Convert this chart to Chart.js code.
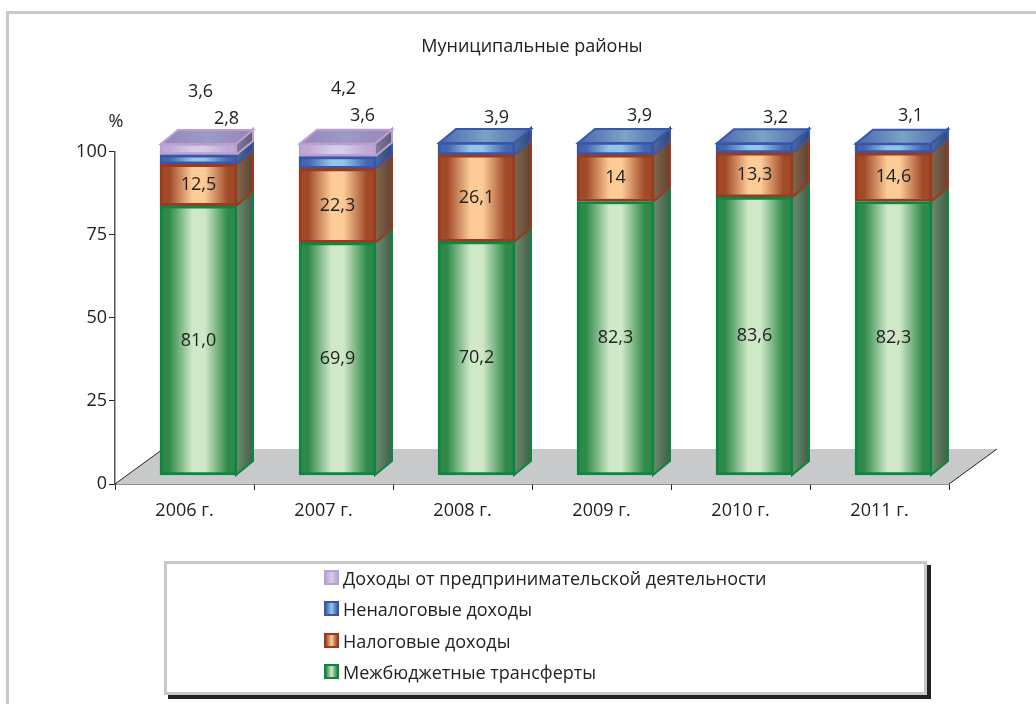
<!DOCTYPE html>
<html>
<head>
<meta charset="utf-8">
<script src="https://cdn.jsdelivr.net/npm/chart.js@4"></script>
<style>
  html, body { margin: 0; background: #fff; }
  #wrap { position: relative; width: 1036px; height: 704px; overflow: hidden; font-family: "Open Sans", sans-serif; }
  #frame { position: absolute; left: 6px; top: 11px; width: 1040px; height: 700px; border-left: 3px solid #c8c8c8; border-top: 3px solid #c8c8c8; }
  #legendBox { position: absolute; left: 164px; top: 561px; width: 757px; height: 128px; border: 3px solid #c8c8c8; box-shadow: 4px 4px 0 #222; background: #fff; }
  .item { position: absolute; left: 157px; font-size: 18px; line-height: 24px; color: #222; white-space: nowrap; }
  .swatch { display: inline-block; width: 11px; height: 11px; border: 2px solid; margin-right: 4px; vertical-align: 0; }
  canvas { position: absolute; left: 0; top: 0; }
</style>
</head>
<body>
<div id="wrap">
  <div id="frame"></div>
  <canvas id="chart" width="1036" height="704"></canvas>
  <div id="legendBox"></div>
</div>
<script>
const categories = ['2006 г.', '2007 г.', '2008 г.', '2009 г.', '2010 г.', '2011 г.'];
const seriesNames = ['Межбюджетные трансферты', 'Налоговые доходы', 'Неналоговые доходы', 'Доходы от предпринимательской деятельности'];
const transfers = [81.0, 69.9, 70.2, 82.3, 83.6, 82.3];
const taxIncome = [12.5, 22.3, 26.1, 14, 13.3, 14.6];
const nonTaxIncome = [2.8, 3.6, 3.9, 3.9, 3.2, 3.1];
const businessIncome = [3.6, 4.2, null, null, null, null];
const transferLabels = ['81,0', '69,9', '70,2', '82,3', '83,6', '82,3'];
const taxLabels = ['12,5', '22,3', '26,1', '14', '13,3', '14,6'];
const nonTaxLabels = ['2,8', '3,6', '3,9', '3,9', '3,2', '3,1'];
const businessLabels = ['3,6', '4,2', '', '', '', ''];
const yTicks = [0, 25, 50, 75, 100];

const textColor = '#222';
const fontName = '"Open Sans", sans-serif';
const palette = [
  { edge: '#0b8743', shade: '#2f8a49', mid: '#cfe8c8', sideA: '#6a8a6c', sideB: '#3f5c46', top: '#0b8743', topMid: '#0b8743' },
  { edge: '#9c3a1e', shade: '#a04a28', mid: '#fccb96', sideA: '#80664c', sideB: '#5e4030', top: '#9c3a1e', topMid: '#9c3a1e' },
  { edge: '#3a56a8', shade: '#4466b0', mid: '#94c5ea', sideA: '#4a6a9a', sideB: '#2f4478', top: '#4a66ae', topMid: '#7ba3c6' },
  { edge: '#bb9fd0', shade: '#c0a8d6', mid: '#d3cde8', sideA: '#7c7a9c', sideB: '#5c5a70', top: '#9a84ba', topMid: '#9a9cc4' }
];
const depthX = 17;
const depthY = -14;
const shiftX = 14;  // bars stand on the floor, away from the axis corner
const floorX = 48;
const floorY = -35;

function frontGradient(ctx, x, w, c) {
  const g = ctx.createLinearGradient(x - w / 2, 0, x + w / 2, 0);
  g.addColorStop(0, c.shade);
  g.addColorStop(0.12, c.shade);
  g.addColorStop(0.42, c.mid);
  g.addColorStop(0.58, c.mid);
  g.addColorStop(0.88, c.shade);
  g.addColorStop(1, c.shade);
  return g;
}

const floorPlugin = {
  id: 'floor',
  beforeDatasetsDraw(chart) {
    const { ctx, chartArea: a } = chart;
    ctx.save();
    ctx.fillStyle = '#c8c9cb';
    ctx.strokeStyle = '#222';
    ctx.lineWidth = 1;
    ctx.beginPath();
    ctx.moveTo(a.left, a.bottom);
    ctx.lineTo(a.left + floorX, a.bottom + floorY);
    ctx.lineTo(a.right + floorX, a.bottom + floorY);
    ctx.lineTo(a.right, a.bottom);
    ctx.closePath();
    ctx.fill();
    ctx.beginPath();
    ctx.moveTo(a.left, a.bottom);
    ctx.lineTo(a.left + floorX, a.bottom + floorY);
    ctx.moveTo(a.right, a.bottom);
    ctx.lineTo(a.right + floorX, a.bottom + floorY);
    ctx.stroke();
    ctx.restore();
    // the bars and their 3D faces all sit shifted right of the axis ticks
    ctx.save();
    ctx.translate(shiftX, 0);
    drawSides(chart);
  },
  afterDatasetsDraw(chart) {
    const ctx = chart.ctx;
    drawTops(chart);
    ctx.restore();
  }
};

function drawSides(chart) {
  const ctx = chart.ctx;
  chart.data.datasets.forEach((ds, i) => {
    const c = palette[i];
    chart.getDatasetMeta(i).data.forEach((bar, j) => {
      if (ds.data[j] == null) return;
      const r = bar.x + bar.width / 2;
      const g = ctx.createLinearGradient(r, 0, r + depthX, 0);
      g.addColorStop(0, c.sideA);
      g.addColorStop(1, c.sideB);
      ctx.fillStyle = g;
      ctx.strokeStyle = c.edge;
      ctx.lineWidth = 2;
      ctx.beginPath();
      ctx.moveTo(r - 1, bar.base);
      ctx.lineTo(r - 1 + depthX, bar.base + depthY);
      ctx.lineTo(r - 1 + depthX, bar.y + depthY);
      ctx.lineTo(r - 1, bar.y);
      ctx.closePath();
      ctx.fill();
      ctx.stroke();
    });
  });
}

function drawTops(chart) {
  const ctx = chart.ctx;
  categories.forEach((_, j) => {
    let last = -1;
    chart.data.datasets.forEach((ds, i) => { if (ds.data[j] != null) last = i; });
    const bar = chart.getDatasetMeta(last).data[j];
    const c = palette[last];
    const l = bar.x - bar.width / 2 + 1;
    const r = bar.x + bar.width / 2 - 1;
    const g = ctx.createLinearGradient(l, 0, r + depthX, 0);
    g.addColorStop(0, c.top);
    g.addColorStop(0.5, c.topMid);
    g.addColorStop(1, c.top);
    ctx.fillStyle = g;
    ctx.strokeStyle = c.edge;
    ctx.lineWidth = 2;
    ctx.beginPath();
    ctx.moveTo(l, bar.y + 1);
    ctx.lineTo(l + depthX, bar.y + 1 + depthY);
    ctx.lineTo(r + depthX, bar.y + 1 + depthY);
    ctx.lineTo(r, bar.y + 1);
    ctx.closePath();
    ctx.fill();
    ctx.stroke();
  });
}

const valueLabels = [transferLabels, taxLabels, nonTaxLabels, businessLabels];
// where the small values go: shift from the top of the blue segment
const outerShift = {
  2: [[28, -36], [25, -41], [20, -24], [24, -26], [21, -24], [17, -27]],
  3: [[2, -63], [6, -68], null, null, null, null]
};

const labelPlugin = {
  id: 'valueLabels',
  afterDraw(chart) {
    const ctx = chart.ctx;
    ctx.save();
    ctx.font = '18px ' + fontName;
    ctx.fillStyle = textColor;
    ctx.textAlign = 'center';
    ctx.textBaseline = 'middle';
    valueLabels.forEach((labels, i) => {
      chart.getDatasetMeta(i).data.forEach((bar, j) => {
        if (!labels[j]) return;
        const top = chart.getDatasetMeta(2).data[j].y;
        const shift = outerShift[i] && outerShift[i][j];
        if (shift) {
          ctx.fillText(labels[j], bar.x + shiftX + shift[0], top + shift[1]);
        } else {
          ctx.fillText(labels[j], bar.x + shiftX, (bar.y + bar.base) / 2);
        }
      });
    });
    // unit above the value axis
    ctx.fillText('%', 116, 122);
    ctx.restore();
  }
};

function makeDataset(name, values, i) {
  return {
    label: name,
    data: values,
    yAxisID: 'bars',
    xAxisID: 'x',
    clip: false,
    borderColor: palette[i].edge,
    borderWidth: 3,
    borderSkipped: false,
    barThickness: 77,
    backgroundColor(context) {
      const x = context.chart.scales.x;
      if (!x || context.dataIndex === undefined) return palette[i].mid;
      const px = x.getPixelForValue(context.dataIndex);
      if (!Number.isFinite(px)) return palette[i].mid;
      return frontGradient(context.chart.ctx, px, 77, palette[i]);
    }
  };
}

const chart = new Chart(document.getElementById('chart'), {
  type: 'bar',
  data: {
    labels: categories,
    datasets: [
      makeDataset(seriesNames[0], transfers, 0),
      makeDataset(seriesNames[1], taxIncome, 1),
      makeDataset(seriesNames[2], nonTaxIncome, 2),
      makeDataset(seriesNames[3], businessIncome, 3)
    ]
  },
  options: {
    responsive: false,
    animation: false,
    layout: { padding: { top: 0, right: 87, bottom: 0, left: 0 } },
    plugins: {
      legend: { display: false },
      tooltip: { enabled: false },
      title: {
        display: true,
        text: 'Муниципальные районы',
        fullSize: false,
        color: textColor,
        font: { family: fontName, size: 18, weight: 'normal' },
        padding: { top: 36, bottom: 94 }
      }
    },
    scales: {
      x: {
        stacked: true,
        offset: true,
        grid: { drawOnChartArea: false, color: '#222', tickLength: 6, offset: true },
        border: { color: '#222', width: 1.5 },
        ticks: { color: textColor, font: { family: fontName, size: 18 }, padding: 10, maxRotation: 0 },
        afterFit(scale) { scale.height = 220; }
      },
      y: {
        min: 0,
        max: 100,
        grid: { drawOnChartArea: false, color: '#222', tickLength: 6 },
        border: { color: '#555', width: 1.5 },
        afterBuildTicks(scale) { scale.ticks = yTicks.map(v => ({ value: v })); },
        ticks: { color: textColor, font: { family: fontName, size: 18 }, padding: 2 },
        afterFit(scale) { scale.width = 115; }
      },
      // the front faces sit about 10px up from the axis corner, same scale length, lifted
      bars: {
        display: false,
        stacked: true,
        min: -2.7,
        max: 97.3
      }
    }
  },
  plugins: [floorPlugin, labelPlugin]
});

// legend list, top entry is the top of the stack
const box = document.getElementById('legendBox');
seriesNames.slice().reverse().forEach((name, n) => {
  const c = palette[seriesNames.length - 1 - n];
  const item = document.createElement('div');
  item.className = 'item';
  item.style.top = (2 + n * 31.3) + 'px';
  const sw = document.createElement('span');
  sw.className = 'swatch';
  sw.style.borderColor = c.edge;
  sw.style.background = `linear-gradient(90deg, ${c.shade}, ${c.mid}, ${c.shade})`;
  item.appendChild(sw);
  item.appendChild(document.createTextNode(name));
  box.appendChild(item);
});
</script>
</body>
</html>
